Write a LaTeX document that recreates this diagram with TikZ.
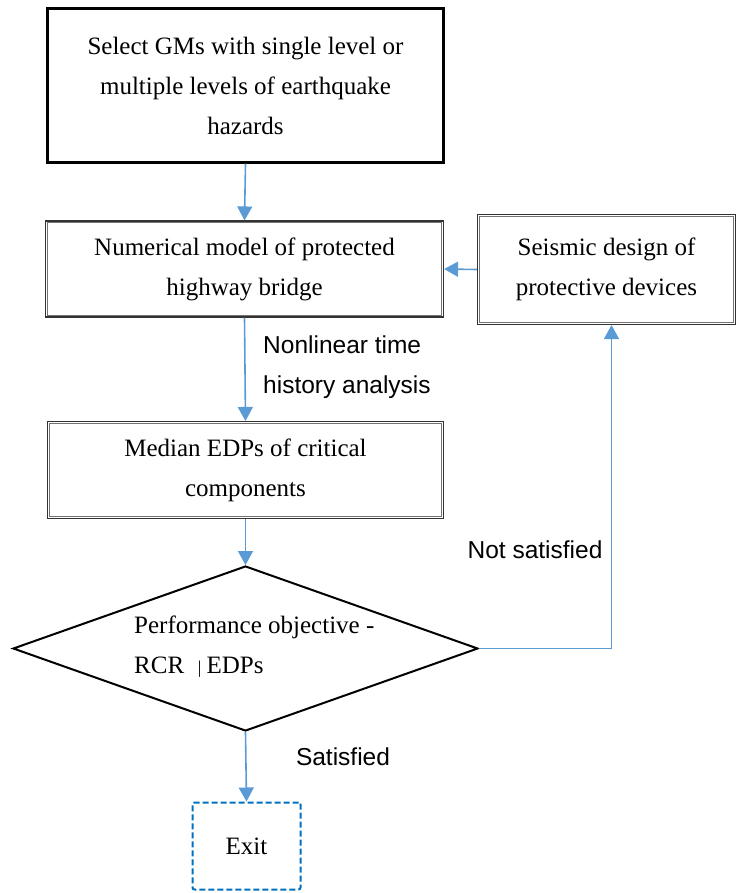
\documentclass[tikz,border=0pt]{standalone}
\usepackage{fontspec}
\setmainfont{Liberation Serif}
\setsansfont{Liberation Sans}
\usetikzlibrary{arrows.meta,shapes.geometric}
\definecolor{arrowblue}{RGB}{91,155,213}
\definecolor{exitblue}{RGB}{0,112,192}
\tikzset{
  flow/.style={draw=arrowblue,line width=1.6bp,-{Triangle[width=15bp,length=14bp]}},
  thickbox/.style={draw=black,line width=2.4bp,fill=white,align=center,inner sep=0pt,
    font=\fontsize{25bp}{40bp}\selectfont},
  dblbox/.style={draw=black!80,line width=1.1bp,align=center,inner sep=0pt,
    font=\fontsize{25bp}{40bp}\selectfont},
  innerline/.style={draw=black!55,line width=0.9bp},
  lbl/.style={font=\sffamily\fontsize{24.5bp}{40bp}\selectfont,inner sep=0pt,align=left}
}
\begin{document}
\begin{tikzpicture}[x=1bp,y=-1bp]
\useasboundingbox (0,0) rectangle (737,893);
\node[thickbox,minimum width=396bp,minimum height=154bp] (sel) at (245.5,85.5)
  {Select GMs with single level or\\multiple levels of earthquake\\hazards};
\node[dblbox,minimum width=398bp,minimum height=96bp] (num) at (244.5,269)
  {Numerical model of protected\\highway bridge};
\node[dblbox,minimum width=258bp,minimum height=110bp] (seis) at (606.5,269.5)
  {Seismic design of\\protective devices};
\node[dblbox,minimum width=396bp,minimum height=97bp] (med) at (245.5,470)
  {Median EDPs of critical\\components};
\foreach \b in {num,seis,med}
  \draw[innerline] ([xshift=2.2bp,yshift=-2.2bp]\b.north west) rectangle ([xshift=-2.2bp,yshift=2.2bp]\b.south east);
\node[diamond,draw=black,line width=2bp,minimum width=465bp,minimum height=165bp,inner sep=0pt] (dia) at (245.5,648.5) {};
\node[anchor=west,align=left,inner sep=0pt,font=\fontsize{25bp}{40bp}\selectfont] (diatext) at (134,647)
  {Performance objective -\\RCR\hspace{0.55em}{\fontsize{18bp}{18bp}\selectfont|}\hspace{0.2em}EDPs};
\node[draw=exitblue,dashed,dash pattern=on 6bp off 3bp,line width=2bp,rounded corners=2bp,
  minimum width=108bp,minimum height=87bp,inner sep=0pt,font=\fontsize{25bp}{40bp}\selectfont] (exit) at (246.5,846) {Exit};
\node[lbl,anchor=west] (nl) at (263,367) {Nonlinear time\\history analysis};
\node[lbl] (ns) at (535,550) {Not satisfied};
\node[lbl] (sat) at (343,757) {Satisfied};
\draw[flow] (sel.south) -- (num.north);
\draw[flow] (num.south) -- (med.north);
\draw[flow] (med.south) -- (dia.north);
\draw[flow] (seis.west) -- (num.east);
\draw[flow] (dia.south) -- (exit.north);
\draw[flow] (dia.east) -| ([xshift=5bp]seis.south);
\end{tikzpicture}
\end{document}
